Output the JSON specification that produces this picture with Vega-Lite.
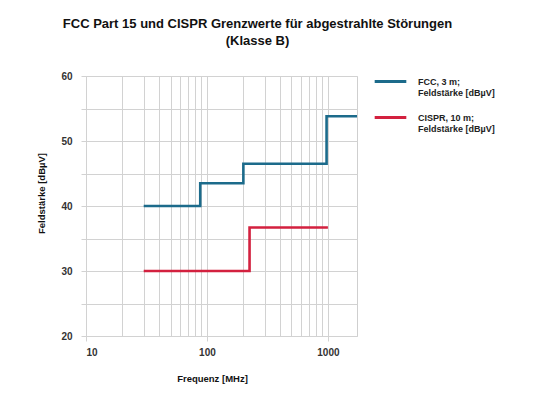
{
  "$schema": "https://vega.github.io/schema/vega-lite/v6.json",
  "width": 271,
  "height": 260,
  "autosize": "none",
  "padding": {"left": 86, "top": 76, "right": 182, "bottom": 65},
  "background": "white",
  "title": {
    "text": ["FCC Part 15 und CISPR Grenzwerte für abgestrahlte Störungen", "(Klasse B)"],
    "font": "Liberation Sans",
    "fontSize": 13,
    "fontWeight": "bold",
    "lineHeight": 17,
    "color": "#111",
    "anchor": "middle",
    "dx": 36,
    "offset": 16
  },
  "data": {
    "values": [
      {"series": "FCC, 3 m; Feldstärke [dBµV]", "mhz": 30, "db": 40},
      {"series": "FCC, 3 m; Feldstärke [dBµV]", "mhz": 88, "db": 43.5},
      {"series": "FCC, 3 m; Feldstärke [dBµV]", "mhz": 200, "db": 46.5},
      {"series": "FCC, 3 m; Feldstärke [dBµV]", "mhz": 975, "db": 53.8},
      {"series": "FCC, 3 m; Feldstärke [dBµV]", "mhz": 1740, "db": 53.8},
      {"series": "CISPR, 10 m; Feldstärke [dBµV]", "mhz": 30, "db": 30},
      {"series": "CISPR, 10 m; Feldstärke [dBµV]", "mhz": 225, "db": 36.7},
      {"series": "CISPR, 10 m; Feldstärke [dBµV]", "mhz": 1000, "db": 36.7}
    ]
  },
  "mark": {"type": "line", "interpolate": "step-after", "strokeWidth": 2.6, "clip": true},
  "encoding": {
    "x": {
      "field": "mhz",
      "type": "quantitative",
      "title": "Frequenz [MHz]",
      "scale": {"type": "log", "domain": [10, 1740], "nice": false},
      "axis": {
        "values": [10, 20, 30, 40, 50, 60, 70, 80, 90, 100, 200, 300, 400, 500, 600, 700, 800, 900, 1000],
        "labelExpr": "indexof([10, 100, 1000], datum.value) >= 0 ? datum.value : ''",
        "tickOpacity": {"condition": {"test": "indexof([10, 100, 1000], datum.value) >= 0", "value": 1}, "value": 0},
        "labelPadding": 6,
        "titlePadding": 16,
        "titleX": 126
      }
    },
    "y": {
      "field": "db",
      "type": "quantitative",
      "title": "Feldstärke [dBµV]",
      "scale": {"domain": [20, 60], "nice": false},
      "axis": {
        "values": [20, 25, 30, 35, 40, 45, 50, 55, 60],
        "labelExpr": "datum.value % 10 == 0 ? datum.value : ''",
        "labelPadding": 9,
        "titlePadding": 14,
        "titleY": 117
      }
    },
    "color": {
      "field": "series",
      "type": "nominal",
      "sort": ["FCC, 3 m; Feldstärke [dBµV]", "CISPR, 10 m; Feldstärke [dBµV]"],
      "scale": {
        "domain": ["FCC, 3 m; Feldstärke [dBµV]", "CISPR, 10 m; Feldstärke [dBµV]"],
        "range": ["#1c6b8b", "#d3213f"]
      },
      "legend": {
        "title": null,
        "orient": "none",
        "legendX": 287,
        "legendY": -12,
        "symbolType": "stroke",
        "symbolStrokeWidth": 3,
        "symbolSize": 1000,
        "labelExpr": "[split(datum.label, '; ')[0] + ';', split(datum.label, '; ')[1]]",
        "labelFont": "Liberation Sans",
        "labelFontSize": 9,
        "labelFontWeight": "bold",
        "labelColor": "#222",
        "labelLineHeight": 12.5,
        "labelOffset": 10,
        "rowPadding": 2,
        "labelLimit": 200
      }
    }
  },
  "config": {
    "font": "Liberation Sans",
    "view": {"stroke": "#cfcfcf", "strokeWidth": 1},
    "axis": {
      "gridColor": "#d2d2d2",
      "gridWidth": 1,
      "domainColor": "#d2d2d2",
      "tickColor": "#d2d2d2",
      "tickSize": 5,
      "labelFont": "Liberation Sans",
      "labelFontSize": 10,
      "labelFontWeight": "bold",
      "labelColor": "#333",
      "titleFont": "Liberation Sans",
      "titleFontSize": 9.5,
      "titleFontWeight": "bold",
      "titleColor": "#111"
    }
  }
}
